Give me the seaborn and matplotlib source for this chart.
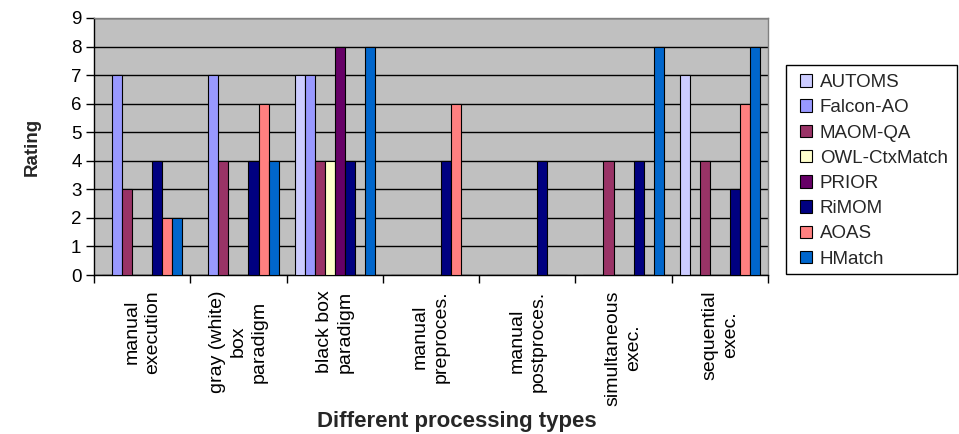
import matplotlib
matplotlib.use("Agg")
import matplotlib.pyplot as plt
from matplotlib.patches import Patch, Rectangle
import seaborn as sns
import pandas as pd

# Processing types (x categories) and the tools rated for each
categories = [
    "manual\nexecution",
    "gray (white)\nbox\nparadigm",
    "black box\nparadigm",
    "manual\npreproces.",
    "manual\npostproces.",
    "simultaneous\nexec.",
    "sequential\nexec.",
]
tools = ["AUTOMS", "Falcon-AO", "MAOM-QA", "OWL-CtxMatch",
         "PRIOR", "RiMOM", "AOAS", "HMatch"]

automs       = [0, 0, 7, 0, 0, 0, 7]
falcon_ao    = [7, 7, 7, 0, 0, 0, 0]
maom_qa      = [3, 4, 4, 0, 0, 4, 4]
owl_ctxmatch = [0, 0, 4, 0, 0, 0, 0]
prior        = [0, 0, 8, 0, 0, 0, 0]
rimom        = [4, 4, 4, 4, 4, 4, 3]
aoas         = [2, 6, 0, 6, 0, 0, 6]
hmatch       = [2, 4, 8, 0, 0, 8, 8]

colors = ["#CCCCFF", "#9999FF", "#993366", "#FFFFCC",
          "#660066", "#000080", "#FF8080", "#0066CC"]

series = [automs, falcon_ao, maom_qa, owl_ctxmatch, prior, rimom, aoas, hmatch]
rows = []
for tool, vals in zip(tools, series):
    for cat, v in zip(categories, vals):
        rows.append({"type": cat, "tool": tool, "rating": v})
df = pd.DataFrame(rows)

sns.set_theme(style="white")
plt.rcParams["font.family"] = ["Liberation Sans", "DejaVu Sans"]

W, H = 959, 434
fig = plt.figure(figsize=(W / 100, H / 100), dpi=100)
ax = fig.add_axes([94 / W, 1 - 275 / H, (768 - 94) / W, (275 - 18) / H])
ax.set_facecolor("#C0C0C0")

sns.barplot(data=df, x="type", y="rating", hue="tool", order=categories,
            hue_order=tools, palette=colors, saturation=1, width=0.835,
            errorbar=None, edgecolor="black", linewidth=0.8, legend=False,
            ax=ax, zorder=3)

ax.set_ylim(0, 9)
ax.set_xlim(-0.5, len(categories) - 0.5)
ax.set_yticks(range(10))
ax.yaxis.grid(True, color="black", linewidth=1.0, zorder=1)
ax.set_axisbelow(True)
ax.tick_params(axis="y", left=True, length=6, width=1, color="black",
               labelsize=13.5, pad=3, labelcolor="black")

# category labels at centres, tick marks at boundaries
ax.set_xticks(range(len(categories)))
ax.set_xticklabels(categories, rotation=90, ha="center", va="top",
                   multialignment="center", fontsize=14, linespacing=1.3)
ax.tick_params(axis="x", which="major", length=0, pad=11, labelcolor="black")
ax.set_xticks([i - 0.5 for i in range(len(categories) + 1)], minor=True)
ax.tick_params(axis="x", which="minor", bottom=True, length=6, width=1,
               color="black")

for side in ("left", "bottom"):
    ax.spines[side].set_color("black")
    ax.spines[side].set_linewidth(1.0)
for side in ("top", "right"):
    ax.spines[side].set_color("#808080")
    ax.spines[side].set_linewidth(1.0)

ax.set_ylabel("Rating", fontsize=13.5, fontweight="bold", labelpad=22)
ax.set_xlabel("")
fig.text(457 / W, 1 - 421 / H, "Different processing types", fontsize=16,
         fontweight="bold", ha="center", va="center")

# legend box
fig.patches.append(Rectangle((786 / W, 1 - 274 / H), (957 - 786) / W,
                             (274 - 65) / H, transform=fig.transFigure,
                             facecolor="white", edgecolor="black",
                             linewidth=1.0, zorder=0))
handles = [Patch(facecolor=c, edgecolor="black", linewidth=0.8) for c in colors]
fig.legend(handles, tools, loc="upper left",
           bbox_to_anchor=(800 / W, 1 - 74 / H),
           fontsize=13.5, frameon=False,
           handlelength=0.64, handleheight=0.64, handletextpad=0.42,
           labelspacing=0.44, borderpad=0, borderaxespad=0)

fig.savefig("out.png", dpi=100, facecolor="white")
